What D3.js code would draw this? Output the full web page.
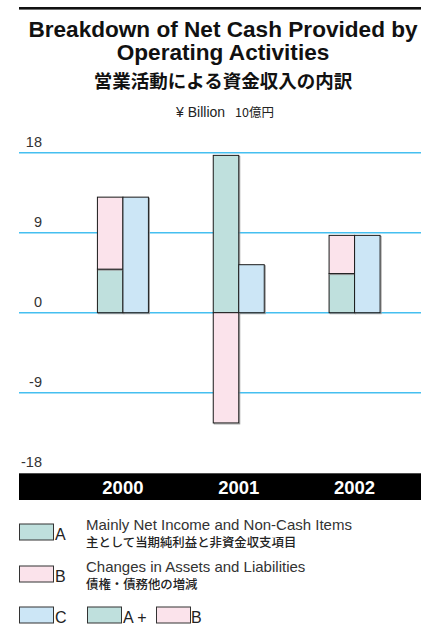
<!DOCTYPE html>
<html>
<head>
<meta charset="utf-8">
<script src="https://cdn.jsdelivr.net/npm/d3@7"></script>
<style>
  html, body { margin: 0; padding: 0; background: #fff; }
  svg { display: block; }
  text { font-family: "Liberation Sans", Arial, Helvetica, sans-serif; }
  .jp { font-family: "Noto Sans CJK JP", "Noto Sans CJK SC", sans-serif; }
</style>
</head>
<body>
<svg id="chart" width="421" height="625"></svg>
<script>
// ---- data ----
const years = ["2000", "2001", "2002"];
const seriesA = [4.9, 17.7, 4.4];    // Mainly Net Income and Non-Cash Items
const seriesB = [8.1, -12.4, 4.3];   // Changes in Assets and Liabilities
const seriesC = [13.0, 5.4, 8.7];    // A + B
const yTicks = [18, 9, 0, -9, -18];

const colA = "#bfe0dd", colB = "#fbe3eb", colC = "#cce6f6";
const gridCol = "#45bff0";

const svg = d3.select("#chart");

// header
svg.append("rect").attr("x", 19).attr("y", 7).attr("width", 402).attr("height", 2.6).attr("fill", "#111");
svg.append("text").attr("x", 223).attr("y", 36.5).attr("text-anchor", "middle")
  .attr("font-size", 22.6).attr("font-weight", "bold").attr("fill", "#111")
  .text("Breakdown of Net Cash Provided by");
svg.append("text").attr("x", 223).attr("y", 59.5).attr("text-anchor", "middle")
  .attr("font-size", 22.6).attr("font-weight", "bold").attr("fill", "#111")
  .text("Operating Activities");
svg.append("text").attr("class", "jp").attr("x", 223).attr("y", 88).attr("text-anchor", "middle")
  .attr("font-size", 18.5).attr("font-weight", "bold").attr("fill", "#111")
  .text("営業活動による資金収入の内訳");
const unit = svg.append("text").attr("x", 225).attr("y", 116.5).attr("text-anchor", "middle").attr("fill", "#222");
unit.append("tspan").attr("font-size", 14).text("¥ Billion ");
unit.append("tspan").attr("class", "jp").attr("font-size", 12.5).attr("dx", 6).text("10億円");

// scales
const y = d3.scaleLinear().domain([-18, 18]).range([472.7, 152.7]);
const x = d3.scaleBand().domain(years).range([65, 412.5]).paddingInner(0).paddingOuter(0);
const barW = 25.5;

// gridlines
svg.append("g").selectAll("line").data(yTicks.filter(d => d > -18)).join("line")
  .attr("x1", 19).attr("x2", 421)
  .attr("y1", d => y(d)).attr("y2", d => y(d))
  .attr("stroke", gridCol).attr("stroke-width", 1.6);

// y labels
svg.append("g").selectAll("text").data(yTicks).join("text")
  .attr("x", 42).attr("y", d => y(d) - 6).attr("text-anchor", "end")
  .attr("font-size", 14.5).attr("fill", "#333")
  .text(d => d);

// bars
const data = years.map((yr, i) => ({ yr, a: seriesA[i], b: seriesB[i], c: seriesC[i] }));
const g = svg.append("g");
function bar(x0, v0, v1, fill) {
  const top = y(Math.max(v0, v1)), bot = y(Math.min(v0, v1));
  g.append("rect").attr("x", x0 + 1).attr("y", top + 1).attr("width", barW).attr("height", bot - top)
    .attr("fill", "none").attr("stroke", "#999").attr("stroke-width", 1);
  g.append("rect").attr("x", x0).attr("y", top).attr("width", barW).attr("height", bot - top)
    .attr("fill", fill).attr("stroke", "#1a1a1a").attr("stroke-width", 1);
}
data.forEach(d => {
  const cx = x(d.yr) + x.bandwidth() / 2;
  bar(cx - barW, 0, d.a, colA);
  if (d.b >= 0) bar(cx - barW, d.a, d.a + d.b, colB);
  else bar(cx - barW, 0, d.b, colB);
  bar(cx, 0, d.c, colC);
});

// year band
svg.append("rect").attr("x", 19).attr("y", 473.3).attr("width", 402).attr("height", 26.7).attr("fill", "#000");
svg.append("g").selectAll("text").data(years).join("text")
  .attr("x", d => x(d) + x.bandwidth() / 2).attr("y", 494).attr("text-anchor", "middle")
  .attr("font-size", 18.5).attr("font-weight", "bold").attr("fill", "#fff")
  .text(d => d);

// legend
const legend = [
  { key: "A", col: colA, en: "Mainly Net Income and Non-Cash Items", jp: "主として当期純利益と非資金収支項目", y: 524 },
  { key: "B", col: colB, en: "Changes in Assets and Liabilities", jp: "債権・債務他の増減", y: 566 }
];
const swW = 34, swH = 16;
function swatch(x0, y0, col) {
  svg.append("rect").attr("x", x0).attr("y", y0).attr("width", swW).attr("height", swH)
    .attr("fill", col).attr("stroke", "#333").attr("stroke-width", 1);
}
legend.forEach(l => {
  swatch(19.5, l.y, l.col);
  svg.append("text").attr("x", 55).attr("y", l.y + swH).attr("font-size", 16).attr("fill", "#222").text(l.key);
  svg.append("text").attr("x", 86).attr("y", l.y + 6).attr("font-size", 15).attr("fill", "#333").text(l.en);
  svg.append("text").attr("class", "jp").attr("x", 86).attr("y", l.y + 23).attr("font-size", 12.4)
    .attr("font-weight", 500).attr("fill", "#222").text(l.jp);
});
swatch(19.5, 607, colC);
svg.append("text").attr("x", 55).attr("y", 623).attr("font-size", 16).attr("fill", "#222").text("C");
swatch(87.5, 607, colA);
svg.append("text").attr("x", 123).attr("y", 623).attr("font-size", 16).attr("fill", "#222").text("A +");
swatch(156.5, 607, colB);
svg.append("text").attr("x", 191).attr("y", 623).attr("font-size", 16).attr("fill", "#222").text("B");
</script>
</body>
</html>
